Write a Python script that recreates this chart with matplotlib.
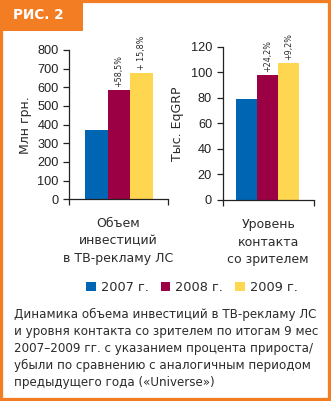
import matplotlib
matplotlib.use("Agg")
import matplotlib.pyplot as plt
from matplotlib.patches import Rectangle

years = ["2007 г.", "2008 г.", "2009 г."]
invest = [370, 586, 679]
contact = [79, 98.1, 107.1]
invest_growth = ["", "+58,5%", "+ 15,8%"]
contact_growth = ["", "+24,2%", "+9,2%"]
colors = ["#0066B3", "#9B0045", "#FFD650"]
cat_left = "Объем\nинвестиций\nв ТВ-рекламу ЛС"
cat_right = "Уровень\nконтакта\nсо зрителем"
ylab_left = "Млн грн."
ylab_right = "Тыс. EqGRP"
left_ticks = [0, 100, 200, 300, 400, 500, 600, 700, 800]
right_ticks = [0, 20, 40, 60, 80, 100, 120]
caption = ["Динамика объема инвестиций в ТВ-рекламу ЛС",
           "и уровня контакта со зрителем по итогам 9 мес",
           "2007–2009 гг. с указанием процента прироста/",
           "убыли по сравнению с аналогичным периодом",
           "предыдущего года («Universe»)"]

ORANGE = "#F27D22"
TXT = "#2b2b2b"
W, H = 331, 401
fig = plt.figure(figsize=(W / 100, H / 100), dpi=100)
fig.patch.set_facecolor("white")

def fx(px):
    return px / W

def fy(py):
    return 1 - py / H

# frame
fig.add_artist(Rectangle((0, 0), 1, 1, transform=fig.transFigure, fill=False,
                         edgecolor=ORANGE, linewidth=4.5, zorder=10))
# tab
fig.add_artist(Rectangle((0, fy(31)), fx(83), 31 / H, transform=fig.transFigure,
                         facecolor=ORANGE, edgecolor="none", zorder=11))
fig.text(fx(13), fy(15), "РИС. 2", color="white", fontsize=9.8, fontweight="bold",
         family="DejaVu Sans", va="center", ha="left", zorder=12)

tickfont = dict(family="Liberation Sans", size=9.2)

def make_axes(rect, vals, ticks, ylim, xlim, labels, ylabel, cat, lpad):
    ax = fig.add_axes(rect)
    idx = list(range(len(vals)))
    bars = ax.bar(idx, vals, width=1.0, color=colors, edgecolor="none", zorder=2)
    ax.set_xlim(*xlim)
    ax.set_ylim(*ylim)
    ax.set_yticks(ticks)
    ax.set_yticklabels([str(t) for t in ticks], fontdict=tickfont, color=TXT)
    ax.set_xticks(list(xlim))
    ax.set_xticklabels(["", ""])
    ax.tick_params(axis="y", direction="out", length=4.5, width=0.9, pad=3, colors="#222")
    ax.tick_params(axis="x", direction="out", length=4, width=0.9, colors="#222")
    for s in ["top", "right"]:
        ax.spines[s].set_visible(False)
    for s in ["left", "bottom"]:
        ax.spines[s].set_linewidth(0.9)
        ax.spines[s].set_color("#222")
    ax.set_ylabel(ylabel, family="DejaVu Sans", fontsize=9, color=TXT, labelpad=lpad)
    for b, lab in zip(bars, labels):
        if lab:
            ax.annotate(lab, (b.get_x() + b.get_width() / 2, b.get_height()),
                        xytext=(0, 2), textcoords="offset points", rotation=90,
                        ha="center", va="bottom", fontsize=5.8,
                        family="DejaVu Sans", color=TXT)
    ax.text(0.5, -0.12, cat, transform=ax.transAxes, ha="center", va="top",
            fontsize=9, family="DejaVu Sans", color=TXT, linespacing=1.45)
    ax.patch.set_alpha(0)
    return ax, bars

axL, barsL = make_axes([fx(69), fy(199.3), fx(167.7) - fx(69), (199.3 - 50) / H],
                       invest, left_ticks, (0, 800), (-1.22, 3.17),
                       invest_growth, ylab_left, cat_left, 4)
axR, barsR = make_axes([fx(222.5), fy(200), fx(314) - fx(222.5), (200 - 46.7) / H],
                       contact, right_ticks, (0, 120), (-1.13, 3.23),
                       contact_growth, ylab_right, cat_right, 5)

fig.legend(handles=list(barsL), labels=years, loc="center",
           bbox_to_anchor=(fx(192), fy(287.5)), ncol=3, frameon=False,
           prop=dict(family="DejaVu Sans", size=9.3), handlelength=0.75,
           handleheight=0.75, handletextpad=0.4, columnspacing=0.9,
           labelcolor=TXT, borderpad=0, borderaxespad=0)

for i, line in enumerate(caption):
    fig.text(fx(13.5), fy(314 + 17.2 * i), line, ha="left", va="center",
             fontsize=8.6, family="DejaVu Sans", color=TXT)

fig.savefig("out.png", dpi=100)
